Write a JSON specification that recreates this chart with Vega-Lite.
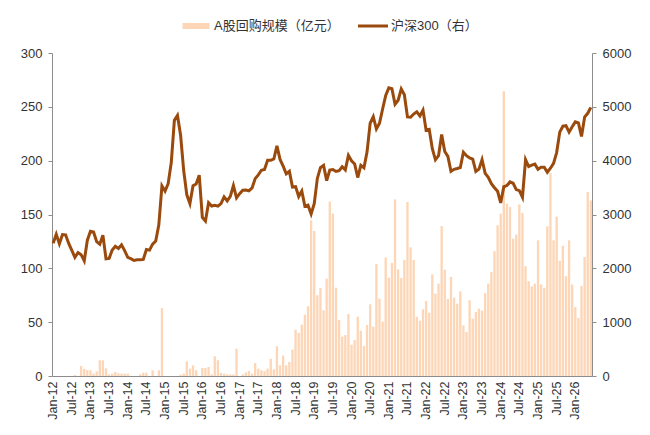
{
  "$schema": "https://vega.github.io/schema/vega-lite/v6.json",
  "width": 540,
  "height": 323,
  "autosize": {"type": "none"},
  "padding": {"left": 52, "top": 53, "right": 58, "bottom": 59},
  "background": "white",
  "data": {
    "values": [
      {"m": "Jan-12", "buyback": 0, "csi": 2464},
      {"m": "Feb-12", "buyback": 0, "csi": 2634},
      {"m": "Mar-12", "buyback": 0, "csi": 2455},
      {"m": "Apr-12", "buyback": 0, "csi": 2626},
      {"m": "May-12", "buyback": 0, "csi": 2622},
      {"m": "Jun-12", "buyback": 0, "csi": 2462},
      {"m": "Jul-12", "buyback": 0, "csi": 2333},
      {"m": "Aug-12", "buyback": 1, "csi": 2204},
      {"m": "Sep-12", "buyback": 0, "csi": 2293},
      {"m": "Oct-12", "buyback": 9.3, "csi": 2254},
      {"m": "Nov-12", "buyback": 6.8, "csi": 2140},
      {"m": "Dec-12", "buyback": 5.6, "csi": 2522},
      {"m": "Jan-13", "buyback": 5.3, "csi": 2687},
      {"m": "Feb-13", "buyback": 2.2, "csi": 2673},
      {"m": "Mar-13", "buyback": 4.3, "csi": 2495},
      {"m": "Apr-13", "buyback": 14.6, "csi": 2448},
      {"m": "May-13", "buyback": 14.6, "csi": 2617},
      {"m": "Jun-13", "buyback": 7.1, "csi": 2178},
      {"m": "Jul-13", "buyback": 1.5, "csi": 2185},
      {"m": "Aug-13", "buyback": 2.2, "csi": 2339},
      {"m": "Sep-13", "buyback": 3.7, "csi": 2409},
      {"m": "Oct-13", "buyback": 2.5, "csi": 2367},
      {"m": "Nov-13", "buyback": 2.2, "csi": 2437},
      {"m": "Dec-13", "buyback": 2.2, "csi": 2330},
      {"m": "Jan-14", "buyback": 2.2, "csi": 2203},
      {"m": "Feb-14", "buyback": 0, "csi": 2179},
      {"m": "Mar-14", "buyback": 0, "csi": 2146},
      {"m": "Apr-14", "buyback": 0, "csi": 2158},
      {"m": "May-14", "buyback": 1.5, "csi": 2160},
      {"m": "Jun-14", "buyback": 3.1, "csi": 2165},
      {"m": "Jul-14", "buyback": 3.1, "csi": 2350},
      {"m": "Aug-14", "buyback": 0, "csi": 2338},
      {"m": "Sep-14", "buyback": 5.3, "csi": 2450},
      {"m": "Oct-14", "buyback": 0, "csi": 2508},
      {"m": "Nov-14", "buyback": 5.3, "csi": 2808},
      {"m": "Dec-14", "buyback": 63, "csi": 3533},
      {"m": "Jan-15", "buyback": 0, "csi": 3434},
      {"m": "Feb-15", "buyback": 0, "csi": 3572},
      {"m": "Mar-15", "buyback": 0, "csi": 3966},
      {"m": "Apr-15", "buyback": 0, "csi": 4749},
      {"m": "May-15", "buyback": 0, "csi": 4841},
      {"m": "Jun-15", "buyback": 1.2, "csi": 4473},
      {"m": "Jul-15", "buyback": 2.2, "csi": 3816},
      {"m": "Aug-15", "buyback": 13.6, "csi": 3366},
      {"m": "Sep-15", "buyback": 6.8, "csi": 3203},
      {"m": "Oct-15", "buyback": 9.9, "csi": 3534},
      {"m": "Nov-15", "buyback": 5.3, "csi": 3566},
      {"m": "Dec-15", "buyback": 0, "csi": 3731},
      {"m": "Jan-16", "buyback": 7.4, "csi": 2946},
      {"m": "Feb-16", "buyback": 7.4, "csi": 2877},
      {"m": "Mar-16", "buyback": 8.4, "csi": 3218},
      {"m": "Apr-16", "buyback": 1.5, "csi": 3157},
      {"m": "May-16", "buyback": 18.3, "csi": 3169},
      {"m": "Jun-16", "buyback": 14.6, "csi": 3154},
      {"m": "Jul-16", "buyback": 2.8, "csi": 3204},
      {"m": "Aug-16", "buyback": 2.2, "csi": 3327},
      {"m": "Sep-16", "buyback": 1.5, "csi": 3253},
      {"m": "Oct-16", "buyback": 1.5, "csi": 3336},
      {"m": "Nov-16", "buyback": 1.5, "csi": 3538},
      {"m": "Dec-16", "buyback": 25.4, "csi": 3310},
      {"m": "Jan-17", "buyback": 0, "csi": 3387},
      {"m": "Feb-17", "buyback": 1.5, "csi": 3452},
      {"m": "Mar-17", "buyback": 3.4, "csi": 3456},
      {"m": "Apr-17", "buyback": 4.6, "csi": 3439},
      {"m": "May-17", "buyback": 2.2, "csi": 3493},
      {"m": "Jun-17", "buyback": 12, "csi": 3666},
      {"m": "Jul-17", "buyback": 6.8, "csi": 3737},
      {"m": "Aug-17", "buyback": 5.3, "csi": 3822},
      {"m": "Sep-17", "buyback": 4.6, "csi": 3837},
      {"m": "Oct-17", "buyback": 6.8, "csi": 4006},
      {"m": "Nov-17", "buyback": 16, "csi": 4006},
      {"m": "Dec-17", "buyback": 6.2, "csi": 4031},
      {"m": "Jan-18", "buyback": 27.6, "csi": 4275},
      {"m": "Feb-18", "buyback": 9.9, "csi": 4023},
      {"m": "Mar-18", "buyback": 19, "csi": 3899},
      {"m": "Apr-18", "buyback": 9.9, "csi": 3756},
      {"m": "May-18", "buyback": 13, "csi": 3802},
      {"m": "Jun-18", "buyback": 24.5, "csi": 3510},
      {"m": "Jul-18", "buyback": 43, "csi": 3517},
      {"m": "Aug-18", "buyback": 40, "csi": 3335},
      {"m": "Sep-18", "buyback": 47.7, "csi": 3438},
      {"m": "Oct-18", "buyback": 57, "csi": 3153},
      {"m": "Nov-18", "buyback": 64.7, "csi": 3173},
      {"m": "Dec-18", "buyback": 144.6, "csi": 3011},
      {"m": "Jan-19", "buyback": 134.7, "csi": 3202},
      {"m": "Feb-19", "buyback": 75, "csi": 3670},
      {"m": "Mar-19", "buyback": 81.7, "csi": 3872},
      {"m": "Apr-19", "buyback": 61, "csi": 3913},
      {"m": "May-19", "buyback": 90.4, "csi": 3630},
      {"m": "Jun-19", "buyback": 162, "csi": 3826},
      {"m": "Jul-19", "buyback": 151, "csi": 3836},
      {"m": "Aug-19", "buyback": 82, "csi": 3799},
      {"m": "Sep-19", "buyback": 52, "csi": 3814},
      {"m": "Oct-19", "buyback": 36.5, "csi": 3887},
      {"m": "Nov-19", "buyback": 38, "csi": 3829},
      {"m": "Dec-19", "buyback": 57.6, "csi": 4097},
      {"m": "Jan-20", "buyback": 29, "csi": 3999},
      {"m": "Feb-20", "buyback": 33.4, "csi": 3940},
      {"m": "Mar-20", "buyback": 55, "csi": 3687},
      {"m": "Apr-20", "buyback": 42, "csi": 3912},
      {"m": "May-20", "buyback": 27.9, "csi": 3868},
      {"m": "Jun-20", "buyback": 47.4, "csi": 4164},
      {"m": "Jul-20", "buyback": 66.6, "csi": 4696},
      {"m": "Aug-20", "buyback": 45.8, "csi": 4816},
      {"m": "Sep-20", "buyback": 104, "csi": 4588},
      {"m": "Oct-20", "buyback": 71.8, "csi": 4695},
      {"m": "Nov-20", "buyback": 50.5, "csi": 4960},
      {"m": "Dec-20", "buyback": 110, "csi": 5211},
      {"m": "Jan-21", "buyback": 91.3, "csi": 5352},
      {"m": "Feb-21", "buyback": 105, "csi": 5336},
      {"m": "Mar-21", "buyback": 164, "csi": 5048},
      {"m": "Apr-21", "buyback": 99, "csi": 5123},
      {"m": "May-21", "buyback": 91, "csi": 5332},
      {"m": "Jun-21", "buyback": 107.7, "csi": 5224},
      {"m": "Jul-21", "buyback": 161.6, "csi": 4812},
      {"m": "Aug-21", "buyback": 119.5, "csi": 4806},
      {"m": "Sep-21", "buyback": 107.7, "csi": 4866},
      {"m": "Oct-21", "buyback": 55, "csi": 4908},
      {"m": "Nov-21", "buyback": 51.4, "csi": 4832},
      {"m": "Dec-21", "buyback": 62, "csi": 4940},
      {"m": "Jan-22", "buyback": 69.7, "csi": 4564},
      {"m": "Feb-22", "buyback": 58.8, "csi": 4581},
      {"m": "Mar-22", "buyback": 94.4, "csi": 4223},
      {"m": "Apr-22", "buyback": 76.5, "csi": 4016},
      {"m": "May-22", "buyback": 85.8, "csi": 4091},
      {"m": "Jun-22", "buyback": 139.3, "csi": 4485},
      {"m": "Jul-22", "buyback": 98.8, "csi": 4170},
      {"m": "Aug-22", "buyback": 71.5, "csi": 4079},
      {"m": "Sep-22", "buyback": 92, "csi": 3804},
      {"m": "Oct-22", "buyback": 72.8, "csi": 3840},
      {"m": "Nov-22", "buyback": 67.2, "csi": 3854},
      {"m": "Dec-22", "buyback": 78.6, "csi": 3872},
      {"m": "Jan-23", "buyback": 47, "csi": 4157},
      {"m": "Feb-23", "buyback": 40.9, "csi": 4093},
      {"m": "Mar-23", "buyback": 70.3, "csi": 4051},
      {"m": "Apr-23", "buyback": 53.3, "csi": 4029},
      {"m": "May-23", "buyback": 59.4, "csi": 3799},
      {"m": "Jun-23", "buyback": 62.5, "csi": 3842},
      {"m": "Jul-23", "buyback": 60.7, "csi": 4020},
      {"m": "Aug-23", "buyback": 77, "csi": 3765},
      {"m": "Sep-23", "buyback": 85.8, "csi": 3690},
      {"m": "Oct-23", "buyback": 96.6, "csi": 3573},
      {"m": "Nov-23", "buyback": 116, "csi": 3497},
      {"m": "Dec-23", "buyback": 140, "csi": 3431},
      {"m": "Jan-24", "buyback": 150.8, "csi": 3216},
      {"m": "Feb-24", "buyback": 264.4, "csi": 3516},
      {"m": "Mar-24", "buyback": 160, "csi": 3537},
      {"m": "Apr-24", "buyback": 157, "csi": 3605},
      {"m": "May-24", "buyback": 127.6, "csi": 3580},
      {"m": "Jun-24", "buyback": 131.3, "csi": 3462},
      {"m": "Jul-24", "buyback": 159.4, "csi": 3442},
      {"m": "Aug-24", "buyback": 151.4, "csi": 3321},
      {"m": "Sep-24", "buyback": 102, "csi": 4018},
      {"m": "Oct-24", "buyback": 88, "csi": 3891},
      {"m": "Nov-24", "buyback": 83.3, "csi": 3916},
      {"m": "Dec-24", "buyback": 85.8, "csi": 3935},
      {"m": "Jan-25", "buyback": 126, "csi": 3840},
      {"m": "Feb-25", "buyback": 85, "csi": 3880},
      {"m": "Mar-25", "buyback": 82, "csi": 3880},
      {"m": "Apr-25", "buyback": 139, "csi": 3785},
      {"m": "May-25", "buyback": 188.5, "csi": 3860},
      {"m": "Jun-25", "buyback": 126, "csi": 3950},
      {"m": "Jul-25", "buyback": 148, "csi": 4150},
      {"m": "Aug-25", "buyback": 107, "csi": 4530},
      {"m": "Sep-25", "buyback": 121, "csi": 4640},
      {"m": "Oct-25", "buyback": 92.6, "csi": 4650},
      {"m": "Nov-25", "buyback": 126, "csi": 4530},
      {"m": "Dec-25", "buyback": 85, "csi": 4630},
      {"m": "Jan-26", "buyback": 64, "csi": 4720},
      {"m": "Feb-26", "buyback": 54, "csi": 4700},
      {"m": "Mar-26", "buyback": 83.6, "csi": 4450},
      {"m": "Apr-26", "buyback": 110.5, "csi": 4810},
      {"m": "May-26", "buyback": 171, "csi": 4880},
      {"m": "Jun-26", "buyback": 163, "csi": 4990}
    ]
  },
  "encoding": {
    "x": {
      "field": "m",
      "type": "nominal",
      "sort": null,
      "scale": {"paddingInner": 0.25, "paddingOuter": 0},
      "axis": {
        "title": null,
        "values": ["Jan-12", "Jul-12", "Jan-13", "Jul-13", "Jan-14", "Jul-14", "Jan-15", "Jul-15", "Jan-16", "Jul-16", "Jan-17", "Jul-17", "Jan-18", "Jul-18", "Jan-19", "Jul-19", "Jan-20", "Jul-20", "Jan-21", "Jul-21", "Jan-22", "Jul-22", "Jan-23", "Jul-23", "Jan-24", "Jul-24", "Jan-25", "Jul-25", "Jan-26"],
        "labelAngle": -90,
        "labelOverlap": false,
        "ticks": false,
        "labelPadding": 5,
        "labelFontSize": 12.5,
        "domainColor": "#8c8c8c",
        "grid": false
      }
    }
  },
  "layer": [
    {
      "mark": {"type": "bar"},
      "encoding": {
        "y": {
          "field": "buyback",
          "type": "quantitative",
          "scale": {"domain": [0, 300], "nice": false},
          "axis": {"title": null, "orient": "left", "values": [0, 50, 100, 150, 200, 250, 300], "grid": false, "labelPadding": 6}
        },
        "color": {
          "datum": "A股回购规模（亿元）",
          "type": "nominal",
          "scale": {"domain": ["A股回购规模（亿元）", "沪深300（右）"], "range": ["#fcd6b6", "#9a4a0c"]},
          "legend": {
            "title": null,
            "orient": "none",
            "legendX": 129,
            "legendY": -42,
            "direction": "horizontal",
            "symbolSize": 900,
            "columnPadding": 18,
            "labelOffset": 3,
            "padding": 0,
            "labelFontSize": 13,
            "labelColor": "#333333",
            "labelFont": "Liberation Sans, Noto Sans CJK SC",
            "encode": {
              "symbols": {
                "update": {
                  "shape": {"signal": "datum.value === '沪深300（右）' ? 'M-1,-0.1H1V0.1H-1Z' : 'M-0.9,-0.2H0.9V0.2H-0.9Z'"},
                  "fill": {"signal": "datum.value === '沪深300（右）' ? '#9a4a0c' : '#fcd6b6'"},
                  "stroke": {"value": "transparent"},
                  "strokeWidth": {"value": 0},
                  "opacity": {"value": 1}
                }
              }
            }
          }
        }
      }
    },
    {
      "mark": {"type": "line", "strokeWidth": 3, "interpolate": "linear"},
      "encoding": {
        "y": {
          "field": "csi",
          "type": "quantitative",
          "scale": {"domain": [0, 6000], "nice": false},
          "axis": {"title": null, "orient": "right", "format": "d", "values": [0, 1000, 2000, 3000, 4000, 5000, 6000], "grid": false, "labelPadding": 6}
        },
        "color": {"datum": "沪深300（右）", "type": "nominal"}
      }
    }
  ],
  "resolve": {"scale": {"y": "independent"}},
  "config": {
    "view": {"stroke": null},
    "font": "Liberation Sans, Noto Sans CJK SC",
    "axis": {
      "labelFont": "Liberation Sans",
      "labelFontSize": 13,
      "labelColor": "#333333",
      "domainColor": "#8c8c8c",
      "tickColor": "#8c8c8c",
      "tickSize": 4
    }
  }
}
